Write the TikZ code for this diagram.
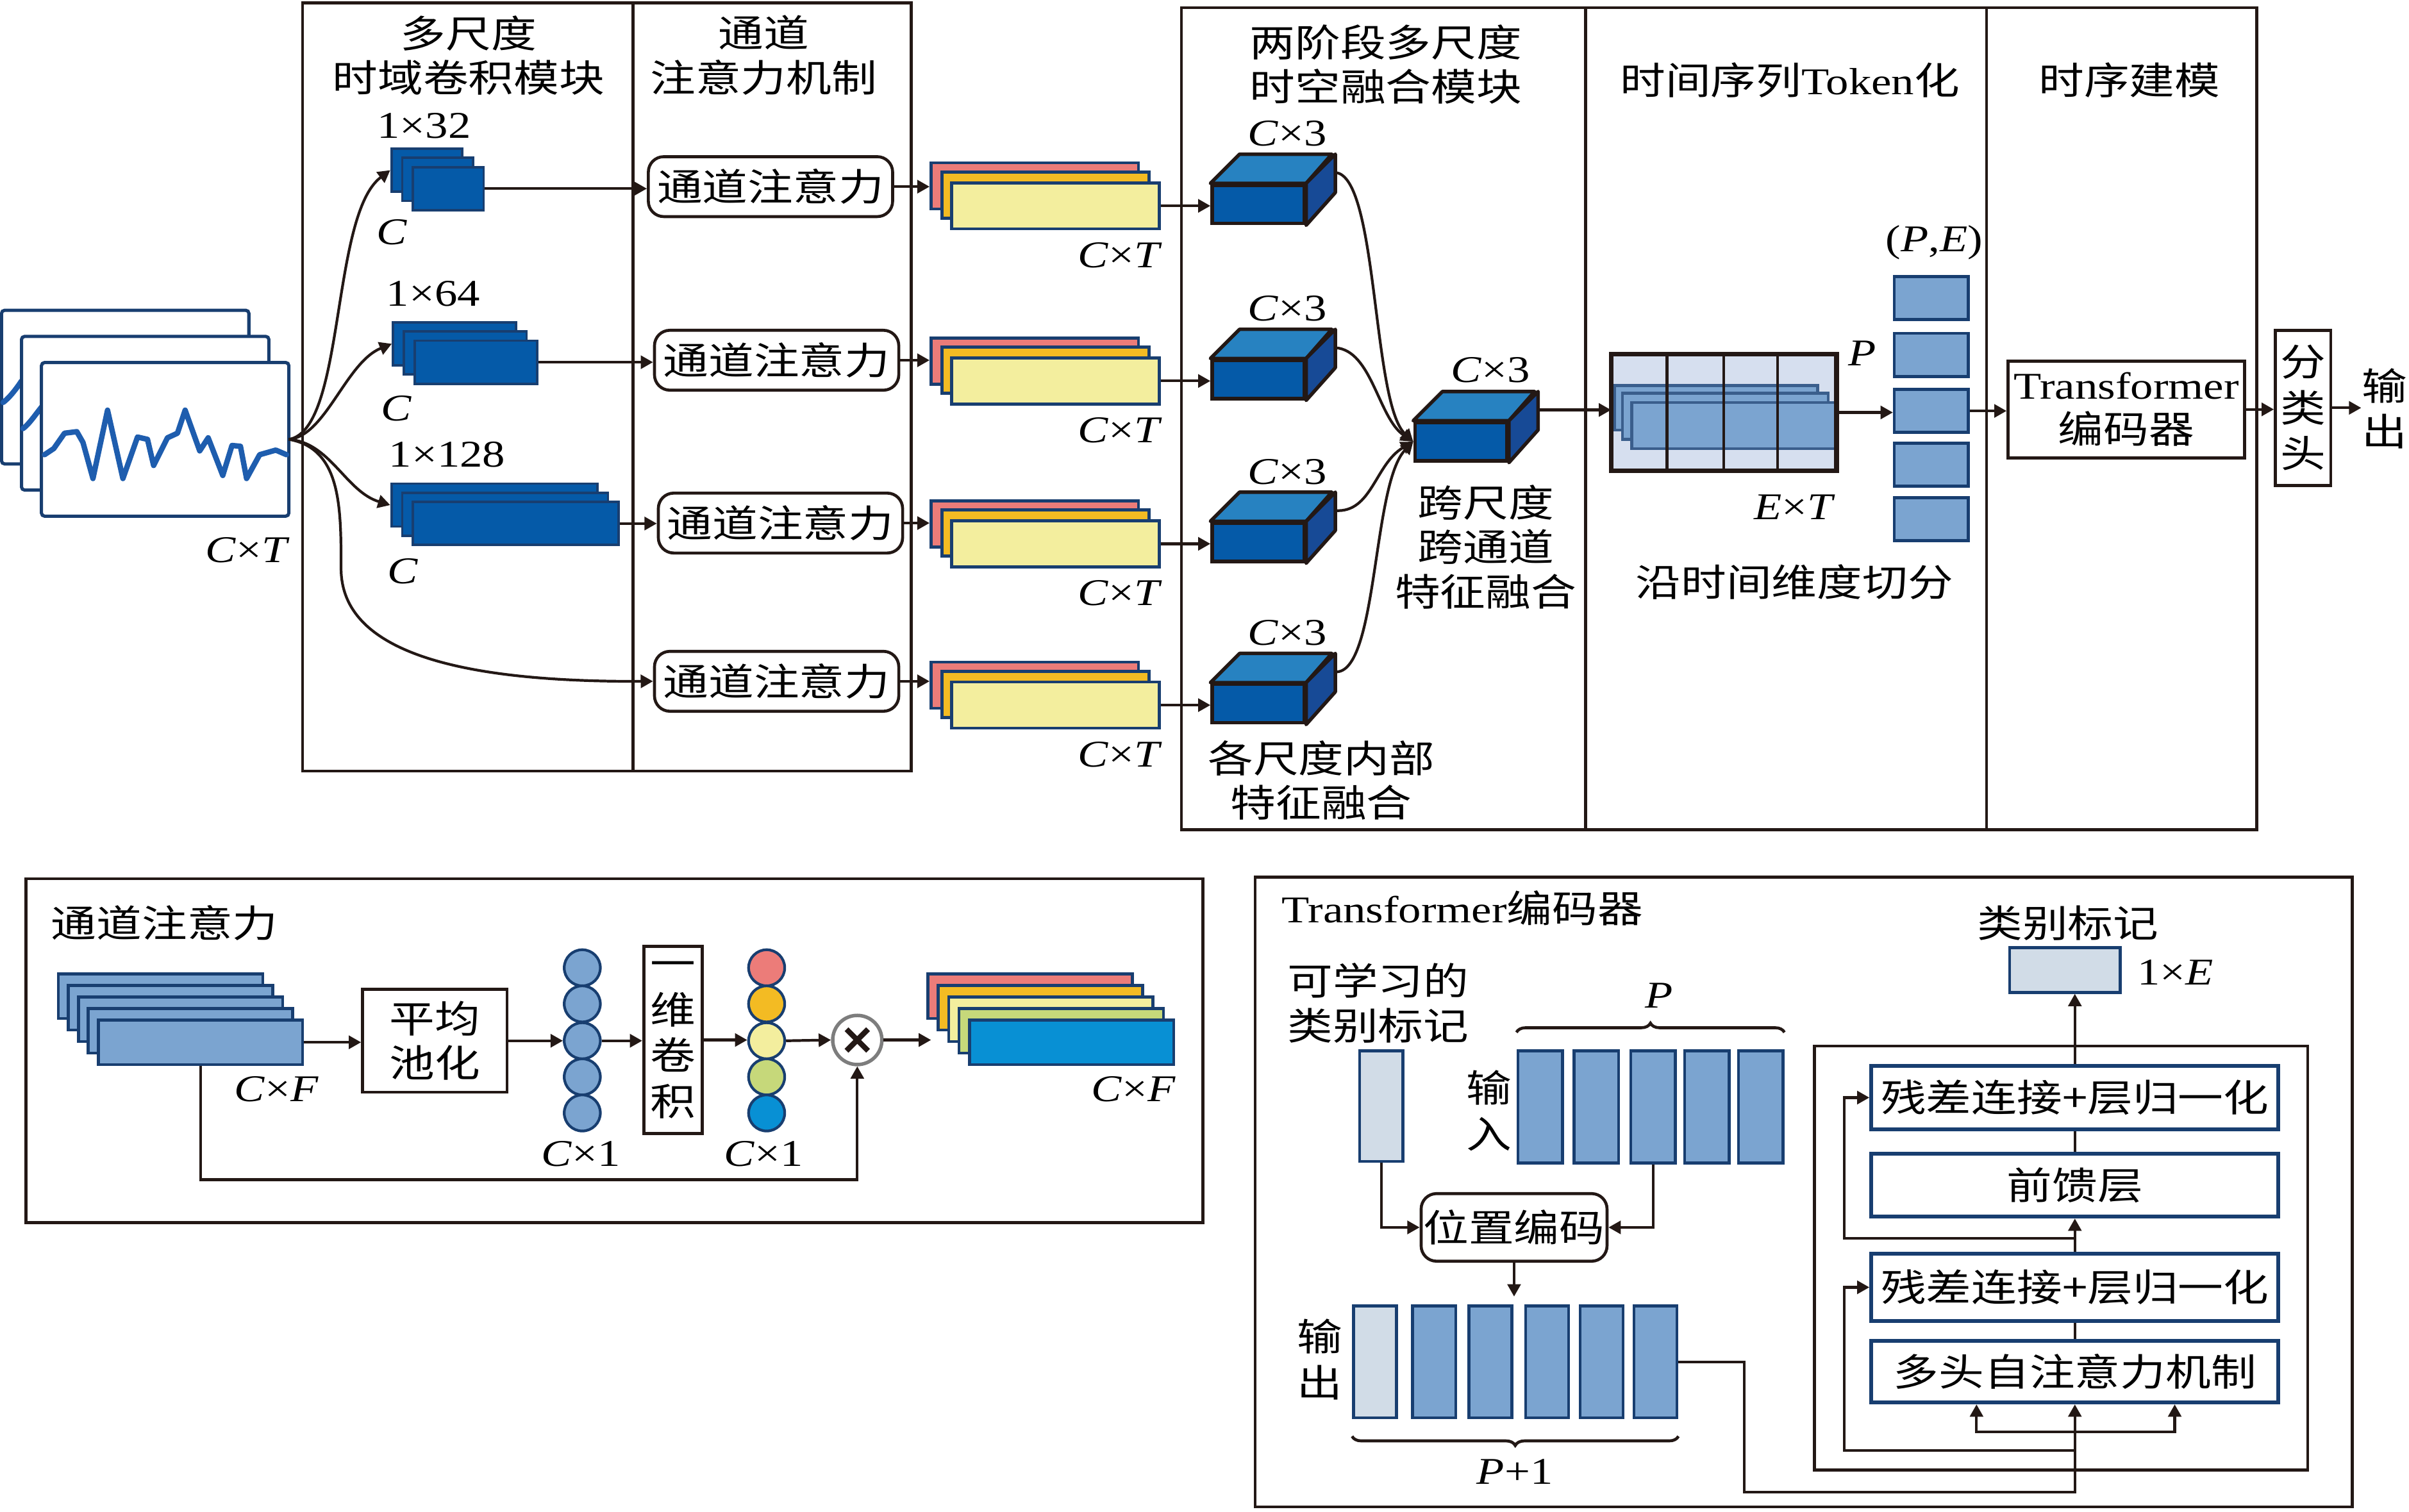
\documentclass[tikz,border=0pt]{standalone}
\usepackage{fontspec}
\setmainfont{Liberation Serif}[FakeStretch=1.2]
\newfontfamily\cjk{Noto Sans CJK SC}[FakeStretch=1.2]
\usepackage{tikz}
\usetikzlibrary{arrows.meta,positioning,decorations.pathreplacing,calc}

\newcommand\latfont{\rmfamily\fontsize{14}{16.5}\selectfont}
\newcommand\zhfont{\cjk\fontsize{14}{16.5}\selectfont}
\newcommand\zhvfont{\cjk\fontsize{14}{17}\selectfont}

\definecolor{cink}{RGB}{35,24,21}
\definecolor{cnavy}{RGB}{24,62,112}
\definecolor{cconv}{RGB}{5,90,168}
\definecolor{ccubetop}{RGB}{39,130,193}
\definecolor{ccubeside}{RGB}{23,74,150}
\definecolor{cwave}{RGB}{30,93,174}
\definecolor{cpink}{RGB}{236,124,121}
\definecolor{corange}{RGB}{243,187,35}
\definecolor{cyellow}{RGB}{243,238,158}
\definecolor{cgreen}{RGB}{198,216,122}
\definecolor{ccyan}{RGB}{8,144,212}
\definecolor{cpatch}{RGB}{123,164,208}
\definecolor{clight}{RGB}{209,220,231}
\definecolor{ctokbg}{RGB}{214,223,239}
\definecolor{ctokline}{RGB}{58,94,140}
\definecolor{cgray}{RGB}{125,125,125}

\tikzset{
  mtframe/.style={draw=cink,line width=1.1pt},
  mtedge/.style={-{Triangle[length=1.6mm,width=1.7mm]},draw=cink,line width=1pt},
  mtline/.style={draw=cink,line width=1pt},
  mttitle/.style={font=\zhfont,align=center},
  mtvert/.style={font=\zhvfont,align=center},
  mtit/.style={font=\latfont\itshape},
  mtsig/.style={draw=cnavy,fill=white,line width=1.2pt,rounded corners=0.4mm,
    minimum width=32.2mm,minimum height=20mm},
  mtwave/.style={draw=cwave,line width=2pt,line join=round,line cap=round},
  mtconv/.style={draw=cnavy,fill=cconv,line width=0.9pt,minimum height=5.6mm},
  mtatt/.style={draw=cink,fill=white,rounded corners=2mm,line width=1.1pt,
    minimum width=31.8mm,minimum height=7.8mm,font=\zhfont},
  mtfeat/.style={draw=cnavy,line width=1.1pt,minimum width=27mm,minimum height=6mm},
  mtcube/.style={draw=cink,fill=cconv,line width=1.3pt,minimum width=12mm,minimum height=5mm},
  mtcubeface/.style={draw=cink,line width=1.3pt,line join=round},
  mtpatch/.style={draw=cnavy,fill=cpatch,line width=1.1pt},
  mtbox/.style={draw=cink,fill=white,line width=1.1pt,align=center},
  mtdot/.style={circle,draw=cnavy,line width=1pt,minimum size=4.7mm},
  mtmul/.style={circle,draw=cgray,fill=white,line width=1.3pt,minimum size=6.4mm},
  mtenc/.style={draw=cnavy,line width=1.4pt,minimum width=53mm,font=\zhfont},
  mtbrace/.style={decorate,decoration={brace,amplitude=1.2mm},draw=cink,line width=1.1pt}
}

\begin{document}
\begin{tikzpicture}[x=0.2mm,y=-0.2mm,every node/.style={inner sep=0pt,font=\latfont}]
\useasboundingbox (0,0) rectangle (1568,984);

% section frames
\draw[mtframe] (197,2) rectangle (593,502);
\draw[mtframe] (412,2) -- (412,502);
\draw[mtframe] (769,5) rectangle (1469,540);
\draw[mtframe] (1032,5) -- (1032,540);
\draw[mtframe] (1293,5) -- (1293,540);
\node[mttitle] (tconv) at (305,36) {多尺度\\时域卷积模块};
\node[mttitle] (tatt) at (497,36) {通道\\注意力机制};
\node[mttitle] (tfuse) at (902,42) {两阶段多尺度\\时空融合模块};
\node[mttitle] (ttok) at (1165,52) {时间序列{\latfont Token}化};
\node[mttitle] (tseq) at (1386,52) {时序建模};

% input signal
\node[mtsig] (sig1) at (81.5,252) {};
\draw[mtwave] (2,262) .. controls (6,259) and (10,254) .. (14,248);
\node[mtsig] (sig2) at (94.5,269) {};
\draw[mtwave] (15,279) .. controls (19,276) and (23,270) .. (27,265);
\node[mtsig] (sig3) at (107.5,286) {};
\draw[mtwave] (29,296) -- (35,292) -- (42,282) -- (50,281) -- (54,288) -- (60.5,311.5)
  -- (70,267) -- (80,311.5) -- (89.5,284.5) -- (96,286) -- (100,303) -- (109,285)
  -- (115.5,282) -- (120.5,267) -- (130,293.5) -- (135.5,285) -- (145,309.5) -- (151,290)
  -- (156.5,290.5) -- (160.5,311.5) -- (169,296) -- (179.5,293) -- (186.5,296);
\node[anchor=east] (lsig) at (189,358) {\textit{C}×\textit{T}};
\coordinate (fork) at (188,286);

% multi-scale temporal convolutions
\node[mtconv,minimum width=9.2mm,anchor=north west] (c1a) at (254,96) {};
\node[mtconv,minimum width=9.2mm,anchor=north west] (c1b) at (261,102) {};
\node[mtconv,minimum width=9.2mm,anchor=north west] (c1c) at (268,108) {};
\node (k1) at (276,82) {1×32};
\node[mtit] (kc1) at (255,151) {C};
\node[mtconv,minimum width=16mm,anchor=north west] (c2a) at (255,209) {};
\node[mtconv,minimum width=16mm,anchor=north west] (c2b) at (262,215) {};
\node[mtconv,minimum width=16mm,anchor=north west] (c2c) at (269,221) {};
\node (k2) at (282,191) {1×64};
\node[mtit] (kc2) at (258,266) {C};
\node[mtconv,minimum width=26.8mm,anchor=north west] (c3a) at (254,314) {};
\node[mtconv,minimum width=26.8mm,anchor=north west] (c3b) at (261,320) {};
\node[mtconv,minimum width=26.8mm,anchor=north west] (c3c) at (268,326) {};
\node (k3) at (291,296) {1×128};
\node[mtit] (kc3) at (262,372) {C};

\node[mtatt] (att1) at (501.5,121.5) {通道注意力};
\node[mtatt] (att2) at (505.5,234.5) {通道注意力};
\node[mtatt] (att3) at (508,340.5) {通道注意力};
\node[mtatt] (att4) at (505.5,443.5) {通道注意力};

\draw[mtedge] (fork) .. controls (225,280) and (215,140) .. (c1a.west);
\draw[mtedge] (fork) .. controls (212,284) and (225,236) .. (c2a.west);
\draw[mtedge] (fork) .. controls (215,288) and (225,320) .. (c3a.west);
\draw[mtedge] (fork) .. controls (222,292) and (222,330) .. (222,370)
  .. controls (222,425) and (300,444) .. (att4.west);
\draw[mtedge] (c1c.east) -- (c1c.east -| att1.west);
\draw[mtedge] (c2c.east) -- (c2c.east -| att2.west);
\draw[mtedge] (c3c.east) -- (c3c.east -| att3.west);

% weighted features and intra-scale fusion
\foreach \i/\y in {1/121,2/235,3/341,4/446}{
  \node[mtfeat,fill=cpink] (fa\i) at (673.5,\y) {};
  \node[mtfeat,fill=corange] (fb\i) at (680.5,\y+6) {};
  \node[mtfeat,fill=cyellow] (fc\i) at (687,\y+13) {};
  \node (ct\i) at (729,\y+45) {\textit{C}×\textit{T}};
  \node[mtcube] (cb\i) at (819,\y+12) {};
  \node (cl\i) at (838,\y-34) {\textit{C}×3};
  \coordinate (cs\i) at ([shift={(19,-7)}]cb\i.north east);
  \draw[mtedge] (att\i.east) -- (att\i.east -| fa\i.west);
  \draw[mtedge] (fc\i.east) -- (fc\i.east -| cb\i.west);
}
\node[mtcube] (cbm) at (951,287.5) {};
\node (clm) at (970,241) {\textit{C}×3};
\foreach \c in {cb1,cb2,cb3,cb4,cbm}{
  \filldraw[mtcubeface,fill=ccubetop] (\c.north west) -- ++(19,-19) -- ++(60,0) -- (\c.north east) -- cycle;
  \filldraw[mtcubeface,fill=ccubeside] (\c.north east) -- ++(19,-19) -- ++(0,25) -- (\c.south east) -- cycle;
}
\draw[mtedge] (cs1) .. controls (897,114) and (893,262) .. (cbm.west);
\draw[mtedge] (cs2) .. controls (893,228) and (897,272) .. (cbm.west);
\draw[mtedge] (cs3) .. controls (893,334) and (895,302) .. (cbm.west);
\draw[mtedge] (cs4) .. controls (897,439) and (893,315) .. (cbm.west);
\node[mttitle] (lcross) at (967,356) {跨尺度\\跨通道\\特征融合};
\node[mttitle] (lintra) at (860,508) {各尺度内部\\特征融合};

% token split
\node[fill=ctokbg,minimum width=29.2mm,minimum height=15mm] (tok) at (1122,268.5) {};
\begin{scope}
  \clip (tok.south west) rectangle (tok.north east);
  \filldraw[fill=cpatch,draw=ctokline,line width=1.1pt] (1051,251) rectangle (1183,280);
  \filldraw[fill=cpatch,draw=ctokline,line width=1.1pt] (1056,256) rectangle (1190,286);
  \filldraw[fill=cpatch,draw=ctokline,line width=1.1pt] (1062,262) rectangle (1200,292);
\end{scope}
\draw[mtline] (1085,231) -- (1085,306) (1122,231) -- (1122,306) (1157,231) -- (1157,306);
\draw[draw=cink,line width=1.7pt] (tok.south west) rectangle (tok.north east);
\coordinate (cbmout) at ([shift={(19,-7)}]cbm.north east);
\draw[mtedge] (cbmout) -- (cbmout -| tok.west);
\node[mtit] (lp) at (1212,230) {P};
\node (let) at (1168,330) {\textit{E}×\textit{T}};
\node[mttitle] (lsplit) at (1168,379) {沿时间维度切分};
\node (lpe) at (1259,158) {(\textit{P},\textit{E})};
\foreach \j/\y in {1/194,2/231,3/267.5,4/302.5,5/338}
  \node[mtpatch,minimum width=9.6mm,minimum height=5.6mm] (pt\j) at (1257,\y) {};
\draw[mtedge] (tok.east) -- (tok.east -| pt3.west);

% temporal modelling and head
\node[mtbox,minimum width=30.8mm,minimum height=12.6mm] (trf) at (1384,266.5) {Transformer\\{\zhfont 编码器}};
\node[mtbox,mtvert,minimum width=7.2mm,minimum height=20.2mm] (head) at (1499,265.5) {分\\类\\头};
\node[mtvert] (lres) at (1552,266) {输\\出};
\draw[mtedge] (pt3.east) -- (pt3.east -| trf.west);
\draw[mtedge] (trf.east) -- (trf.east -| head.west);
\draw[mtedge] (head.east) -- (head.east -| lres.west);

% ---- channel attention detail
\draw[mtframe] (17,572) rectangle (783,796);
\node[mttitle,anchor=west] (tca) at (33,601) {通道注意力};
\foreach \k in {0,...,4}
  \node[mtpatch,minimum width=26.6mm,minimum height=5.8mm] (ia\k) at ({104.5+6.5*\k},{648.5+7.5*\k}) {};
\node (lcf1) at (180,709) {\textit{C}×\textit{F}};
\node[mtbox,font=\zhfont,minimum width=18.8mm,minimum height=13.4mm] (pool) at (283,677.5) {平均\\池化};
\foreach \k/\y in {1/630,2/653.5,3/677.5,4/701,5/724.5}
  \node[mtdot,fill=cpatch] (pc\k) at (379,\y) {};
\node (lc1) at (378,751) {\textit{C}×1};
\node[mtbox,mtvert,minimum width=7.6mm,minimum height=24.4mm] (c1d) at (438,677) {一\\维\\卷\\积};
\foreach \k/\y/\c in {1/630/cpink,2/653.5/corange,3/677.5/cyellow,4/701/cgreen,5/724.5/ccyan}
  \node[mtdot,fill=\c] (qc\k) at (499,\y) {};
\node (lc2) at (497,751) {\textit{C}×1};
\node[mtmul] (mul) at (558,677) {};
\draw[draw=cink,line width=2pt] (mul.center) +(-7,-7) -- +(7,7) +(-7,7) -- +(7,-7);
\coordinate (oarr) at (606,677);
\foreach \k/\c in {0/cpink,1/corange,2/cyellow,3/cgreen,4/ccyan}
  \node[mtpatch,fill=\c,minimum width=26.6mm,minimum height=5.8mm] (oa\k) at ({670.5+6.75*\k},{648.5+7.5*\k}) {};
\node (lcf2) at (738,709) {\textit{C}×\textit{F}};
\draw[mtedge] (ia4.east) -- (ia4.east -| pool.west);
\draw[mtedge] (pool.east) -- (pool.east -| pc3.west);
\draw[mtedge] (pc3.east) -- (pc3.east -| c1d.west);
\draw[mtedge] (c1d.east) -- (c1d.east -| qc3.west);
\draw[mtedge] (qc3.east) -- (mul.west);
\draw[mtedge] (mul.east) -- (oarr);
\draw[mtedge] (ia4.south) -- ++(0,74) -| (mul.south);

% ---- transformer encoder detail
\draw[mtframe] (817,571) rectangle (1531,981);
\node[anchor=west] (tenc) at (834,591) {Transformer{\zhfont 编码器}};
\node[mttitle] (lcls) at (897,653) {可学习的\\类别标记};
\node[mtpatch,fill=clight,minimum width=5.6mm,minimum height=14.4mm] (cls) at (899,720) {};
\node[mtvert] (lin) at (969,723) {输\\入};
\foreach \k/\x in {1/1002.5,2/1039,3/1076,4/1111,5/1146}
  \node[mtpatch,minimum width=5.8mm,minimum height=14.6mm] (in\k) at (\x,720.5) {};
\draw[mtbrace] ([yshift=2.2mm]in1.north west) -- ([yshift=2.2mm]in5.north east);
\node[mtit] (lpin) at (1080,648) {P};
\node[mtatt,minimum width=24.2mm,minimum height=8.8mm] (pos) at (985.5,799) {位置编码};
\draw[mtedge] (cls.south) |- (pos.west);
\draw[mtedge] (in3.south) |- (pos.east);
\coordinate (posend) at (985.5,844);
\draw[mtedge] (pos.south) -- (posend);
\node[mtvert] (lout) at (859,885) {输\\出};
\node[mtpatch,fill=clight,minimum width=5.6mm,minimum height=14.6mm] (ou1) at (895,886.5) {};
\foreach \k/\x in {2/933.5,3/970,4/1007,5/1042.5,6/1077.5}
  \node[mtpatch,minimum width=5.6mm,minimum height=14.6mm] (ou\k) at (\x,886.5) {};
\draw[mtbrace] ([yshift=-2.2mm]ou6.south east) -- ([yshift=-2.2mm]ou1.south west);
\node (lp1) at (986,958) {\textit{P}+1};

\draw[mtframe] (1181,681) rectangle (1502,957);
\node[mtenc,minimum height=8.2mm] (res1) at (1350.5,714.5) {残差连接+层归一化};
\node[mtenc,minimum height=8.2mm] (ffn) at (1350.5,771.5) {前馈层};
\node[mtenc,minimum height=8.8mm] (res2) at (1350.5,838) {残差连接+层归一化};
\node[mtenc,minimum height=8mm] (mha) at (1350.5,893) {多头自注意力机制};
\node[mtpatch,fill=clight,minimum width=14.4mm,minimum height=5.8mm] (clso) at (1344,631.5) {};
\node[mttitle] (lclso) at (1346,601) {类别标记};
\node (le) at (1416,633) {1×\textit{E}};
\draw[mtedge] (res1.north) -- (res1.north |- clso.south);
\draw[mtline] (res1.south) -- (ffn.north);
\draw[mtedge] (res2.north) -- (ffn.south);
\draw[mtline] (mha.north) -- (res2.south);
\coordinate (br1) at ($(ffn.south)!0.6!(res2.north)$);
\draw[mtedge] (br1) -- ++(-150,0) |- (res1.west);
\coordinate (tk) at ([yshift=-11.4mm]mha.south);
\coordinate (sp) at ([yshift=-3.6mm]mha.south);
\coordinate (br2) at ([yshift=-6mm]mha.south);
\draw[mtedge] (ou6.east) -- ++(43,0) |- (tk) -- (mha.south);
\draw[mtedge] (sp) -| ([xshift=-12.8mm]mha.south);
\draw[mtedge] (sp) -| ([xshift=13mm]mha.south);
\draw[mtedge] (br2) -- ++(-150,0) |- (res2.west);
\end{tikzpicture}
\end{document}
